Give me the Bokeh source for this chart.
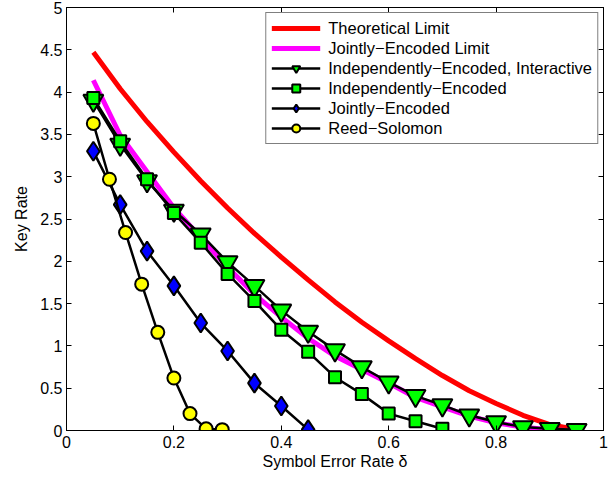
from bokeh.plotting import figure
from bokeh.models import Range1d, LinearAxis, NumeralTickFormatter, FixedTicker
from bokeh.embed import file_html
from bokeh.resources import INLINE

# ---- data ----
theo_x = [0.05, 0.10, 0.15, 0.20, 0.25, 0.30, 0.35, 0.40, 0.45, 0.50,
          0.55, 0.60, 0.65, 0.70, 0.75, 0.80, 0.85, 0.90, 0.95]
theo_y = [4.47, 4.04, 3.65, 3.29, 2.95, 2.63, 2.33, 2.05, 1.78, 1.52,
          1.28, 1.06, 0.85, 0.65, 0.47, 0.32, 0.18, 0.07, 0.01]

jel_x = [0.05, 0.10, 0.15, 0.20, 0.25, 0.30, 0.35, 0.40, 0.45, 0.50,
         0.55, 0.60, 0.65, 0.70, 0.75, 0.80, 0.85, 0.90, 0.93]
jel_y = [4.14, 3.49, 3.06, 2.63, 2.28, 1.93, 1.61, 1.34, 1.09, 0.88,
         0.72, 0.56, 0.39, 0.28, 0.17, 0.09, 0.04, 0.01, 0.00]

iei_x = [0.05, 0.10, 0.15, 0.20, 0.25, 0.30, 0.35, 0.40, 0.45, 0.50,
         0.55, 0.60, 0.65, 0.70, 0.75, 0.80, 0.85, 0.90, 0.95]
iei_y = [3.90, 3.38, 2.95, 2.60, 2.32, 1.99, 1.71, 1.42, 1.17, 0.95,
         0.75, 0.57, 0.41, 0.30, 0.18, 0.10, 0.04, 0.02, 0.01]

ie_x = [0.05, 0.10, 0.15, 0.20, 0.25, 0.30, 0.35, 0.40, 0.45, 0.50,
        0.55, 0.60, 0.65, 0.70]
ie_y = [3.93, 3.42, 2.97, 2.57, 2.22, 1.85, 1.53, 1.19, 0.93, 0.63,
        0.43, 0.20, 0.11, 0.02]

je_x = [0.05, 0.10, 0.15, 0.20, 0.25, 0.30, 0.35, 0.40, 0.45]
je_y = [3.30, 2.67, 2.12, 1.71, 1.27, 0.94, 0.56, 0.29, 0.01]

rs_x = [0.05, 0.08, 0.11, 0.14, 0.17, 0.20, 0.23, 0.26, 0.29]
rs_y = [3.63, 2.97, 2.34, 1.73, 1.16, 0.62, 0.20, 0.02, 0.01]

x_ticks = [0, 0.2, 0.4, 0.6, 0.8, 1.0]
y_ticks = [0, 0.5, 1, 1.5, 2, 2.5, 3, 3.5, 4, 4.5, 5]

FONT = "Liberation Sans"
FS = "16px"

p = figure(width=616, height=478, output_backend="svg", toolbar_location=None,
           x_range=Range1d(0, 1), y_range=Range1d(0, 5),
           x_axis_label="Symbol Error Rate δ", y_axis_label="Key Rate")
p.min_border_left = 66
p.min_border_right = 13
p.min_border_top = 7
p.min_border_bottom = 48
p.xgrid.visible = False
p.ygrid.visible = False
p.outline_line_color = "black"
p.outline_line_width = 1
p.background_fill_color = "white"
p.border_fill_color = "white"

for ax, ticks in ((p.xaxis[0], x_ticks), (p.yaxis[0], y_ticks)):
    ax.ticker = FixedTicker(ticks=ticks)
    ax.formatter = NumeralTickFormatter(format="0.[0]")
    ax.major_tick_in = 5
    ax.major_tick_out = 0
    ax.minor_tick_line_color = None
    ax.major_label_text_font = FONT
    ax.major_label_text_font_size = FS
    ax.major_label_text_color = "black"
    ax.axis_label_text_font = FONT
    ax.axis_label_text_font_size = FS
    ax.axis_label_text_font_style = "normal"
    ax.axis_label_text_color = "black"
    ax.axis_line_color = "black"
    ax.major_tick_line_color = "black"
p.xaxis[0].major_label_standoff = 5
p.xaxis[0].axis_label_standoff = 2
p.yaxis[0].major_label_standoff = 4
p.yaxis[0].axis_label_standoff = 7

top = LinearAxis(ticker=FixedTicker(ticks=x_ticks), major_tick_in=5, major_tick_out=0,
                 minor_tick_line_color=None, major_label_standoff=0,
                 major_label_overrides={t: "" for t in x_ticks})
right = LinearAxis(ticker=FixedTicker(ticks=y_ticks), major_tick_in=5, major_tick_out=0,
                   minor_tick_line_color=None, major_label_standoff=0,
                   major_label_overrides={t: "" for t in y_ticks})
p.add_layout(top, "above")
p.add_layout(right, "right")

p.line(theo_x, theo_y, color="red", line_width=5, legend_label="Theoretical Limit")
p.line(jel_x, jel_y, color="magenta", line_width=5, legend_label="Jointly−Encoded Limit")

lbl = "Independently−Encoded, Interactive"
p.line(iei_x, iei_y, color="black", line_width=2.5, legend_label=lbl)
p.scatter(iei_x, iei_y, marker="inverted_triangle", size=20, fill_color="#00ff00",
          line_color="black", line_width=2, legend_label=lbl)

lbl = "Independently−Encoded"
p.line(ie_x, ie_y, color="black", line_width=2.5, legend_label=lbl)
p.scatter(ie_x, ie_y, marker="square", size=12, fill_color="#00ff00",
          line_color="black", line_width=2, legend_label=lbl)

lbl = "Jointly−Encoded"
p.line(je_x, je_y, color="black", line_width=2.5, legend_label=lbl)
p.scatter(je_x, je_y, marker="diamond", size=19, fill_color="blue",
          line_color="black", line_width=2, legend_label=lbl)

lbl = "Reed−Solomon"
p.line(rs_x, rs_y, color="black", line_width=2.5, legend_label=lbl)
p.scatter(rs_x, rs_y, marker="circle", size=13, fill_color="yellow",
          line_color="black", line_width=2, legend_label=lbl)

lg = p.legend[0]
lg.location = "top_right"
lg.margin = 5
lg.padding = 5
lg.spacing = 0
lg.glyph_width = 49
lg.glyph_height = 20
lg.label_standoff = 8
lg.label_height = 20
lg.label_text_font = FONT
lg.label_text_font_size = "16.5px"
lg.label_text_color = "black"
lg.border_line_color = "black"
lg.border_line_width = 1
lg.background_fill_alpha = 1

open("out.html", "w").write(file_html(p, INLINE))
